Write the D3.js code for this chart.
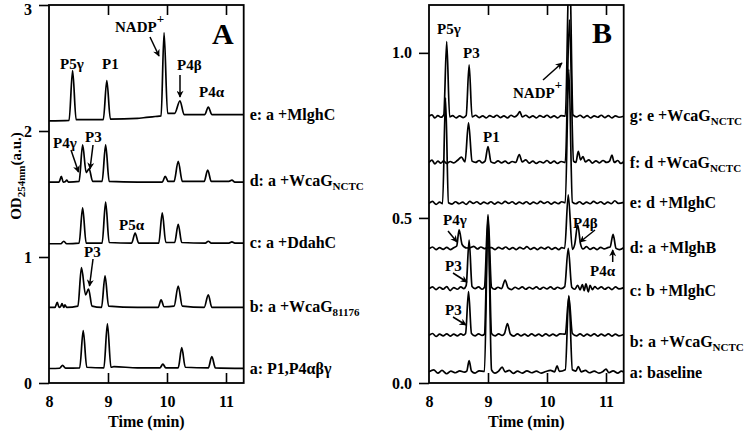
<!DOCTYPE html>
<html>
<head>
<meta charset="utf-8">
<script src="https://cdn.jsdelivr.net/npm/d3@7"></script>
<style>
  body { margin: 0; background: #fff; }
  text { font-family: "Liberation Serif", "Times New Roman", serif; font-weight: bold; fill: #000; }
</style>
</head>
<body>
<div id="chart"></div>
<script>
const width = 745;
const height = 433;

// x ticks (min) and y ticks for both panels
const ticksX = [8, 9, 10, 11];
const ticksYA = [0, 1, 2, 3];
const ticksYB = [0.0, 0.5, 1.0];

// Panel A traces: [time, OD]
const traceA_a = [[8.0,0.115],[8.18,0.117],[8.23,0.14],[8.28,0.118],[8.52,0.12],[8.58,0.415],[8.64,0.125],[8.93,0.12],[8.99,0.47],[9.05,0.125],[9.1,0.13],[9.5,0.12],[9.88,0.12],[9.93,0.15],[9.98,0.12],[10.19,0.12],[10.25,0.28],[10.31,0.125],[10.70,0.12],[10.76,0.21],[10.82,0.12],[11.3,0.116]];
const traceA_b = [[8.0,0.60],[8.1,0.60],[8.14,0.64],[8.17,0.60],[8.2,0.61],[8.22,0.63],[8.25,0.60],[8.27,0.62],[8.30,0.60],[8.49,0.61],[8.55,0.915],[8.62,0.70],[8.67,0.745],[8.73,0.61],[8.89,0.60],[8.95,0.85],[9.01,0.61],[9.5,0.60],[9.85,0.60],[9.90,0.66],[9.95,0.605],[10.12,0.61],[10.19,0.77],[10.26,0.61],[10.63,0.60],[10.70,0.70],[10.76,0.60],[11.3,0.60]];
const traceA_c = [[8.0,1.105],[8.20,1.105],[8.25,1.125],[8.30,1.105],[8.51,1.11],[8.57,1.39],[8.63,1.11],[8.90,1.11],[8.96,1.435],[9.02,1.115],[9.40,1.11],[9.46,1.19],[9.52,1.11],[9.86,1.11],[9.92,1.35],[9.98,1.115],[10.13,1.115],[10.19,1.26],[10.25,1.115],[10.65,1.11],[10.70,1.125],[10.75,1.11],[11.05,1.11],[11.1,1.12],[11.15,1.11],[11.3,1.11]];
const traceA_d = [[8.0,1.595],[8.17,1.595],[8.21,1.64],[8.24,1.595],[8.28,1.60],[8.30,1.61],[8.33,1.595],[8.51,1.60],[8.57,1.89],[8.63,1.67],[8.68,1.70],[8.74,1.60],[8.90,1.60],[8.96,1.89],[9.02,1.60],[9.5,1.595],[9.92,1.595],[9.97,1.64],[10.02,1.60],[10.12,1.60],[10.19,1.76],[10.26,1.60],[10.63,1.60],[10.69,1.69],[10.75,1.60],[11.05,1.60],[11.1,1.61],[11.15,1.595],[11.3,1.595]];
const traceA_e = [[8.0,2.08],[8.34,2.085],[8.40,2.48],[8.46,2.09],[8.92,2.09],[8.98,2.40],[9.04,2.095],[9.5,2.10],[9.6,2.105],[9.7,2.11],[9.8,2.115],[9.90,2.12],[9.95,2.78],[10.01,2.14],[10.13,2.14],[10.22,2.24],[10.29,2.13],[10.64,2.13],[10.70,2.19],[10.76,2.13],[11.3,2.13]];

// Panel B traces: [time, OD]
const traceB_a = [[8.0,0.034],[8.08,0.040],[8.15,0.030],[8.22,0.038],[8.3,0.028],[8.37,0.036],[8.45,0.031],[8.52,0.037],[8.6,0.033],[8.64,0.036],[8.68,0.068],[8.72,0.036],[8.78,0.030],[8.85,0.037],[8.94,0.035],[9.0,0.50],[9.06,0.04],[9.12,0.030],[9.18,0.036],[9.24,0.048],[9.29,0.034],[9.36,0.038],[9.43,0.029],[9.5,0.036],[9.58,0.030],[9.66,0.037],[9.74,0.031],[9.82,0.036],[9.9,0.030],[9.98,0.035],[10.06,0.038],[10.13,0.034],[10.17,0.052],[10.21,0.035],[10.31,0.04],[10.37,0.265],[10.43,0.04],[10.49,0.036],[10.53,0.05],[10.58,0.034],[10.65,0.038],[10.72,0.031],[10.8,0.036],[10.88,0.030],[10.95,0.035],[11.0,0.042],[11.05,0.031],[11.12,0.037],[11.2,0.030],[11.26,0.036],[11.3,0.033]];
const traceB_b = [[8.00,0.144],[8.06,0.150],[8.12,0.141],[8.18,0.148],[8.24,0.143],[8.30,0.149],[8.36,0.142],[8.42,0.148],[8.48,0.143],[8.54,0.149],[8.58,0.145],[8.62,0.150],[8.67,0.277],[8.72,0.150],[8.78,0.143],[8.84,0.149],[8.90,0.144],[8.94,0.148],[9.00,0.505],[9.06,0.15],[9.12,0.143],[9.18,0.149],[9.24,0.144],[9.28,0.150],[9.33,0.18],[9.38,0.148],[9.44,0.142],[9.50,0.149],[9.56,0.143],[9.62,0.148],[9.68,0.142],[9.74,0.149],[9.80,0.143],[9.86,0.148],[9.92,0.142],[9.98,0.149],[10.04,0.143],[10.10,0.148],[10.16,0.143],[10.22,0.149],[10.31,0.148],[10.37,0.262],[10.43,0.150],[10.50,0.143],[10.56,0.149],[10.62,0.142],[10.68,0.148],[10.74,0.143],[10.80,0.149],[10.86,0.142],[10.92,0.148],[10.98,0.143],[11.04,0.149],[11.10,0.142],[11.16,0.148],[11.22,0.143],[11.30,0.147]];
const traceB_c = [[8.00,0.285],[8.06,0.291],[8.12,0.283],[8.18,0.290],[8.24,0.284],[8.30,0.292],[8.36,0.280],[8.42,0.289],[8.48,0.284],[8.54,0.291],[8.59,0.286],[8.63,0.295],[8.68,0.433],[8.73,0.292],[8.78,0.286],[8.84,0.291],[8.90,0.284],[8.94,0.29],[9.00,0.51],[9.06,0.29],[9.11,0.284],[9.17,0.290],[9.23,0.286],[9.29,0.312],[9.34,0.288],[9.40,0.283],[9.46,0.290],[9.52,0.285],[9.58,0.291],[9.64,0.284],[9.70,0.290],[9.76,0.285],[9.82,0.291],[9.88,0.284],[9.94,0.290],[10.00,0.285],[10.06,0.291],[10.12,0.284],[10.18,0.290],[10.24,0.286],[10.30,0.292],[10.36,0.408],[10.42,0.290],[10.47,0.284],[10.52,0.296],[10.56,0.282],[10.60,0.298],[10.63,0.280],[10.66,0.300],[10.70,0.276],[10.73,0.296],[10.77,0.283],[10.81,0.292],[10.86,0.285],[10.92,0.291],[10.98,0.284],[11.04,0.290],[11.10,0.283],[11.16,0.291],[11.22,0.285],[11.30,0.289]];
const traceB_d = [[8.00,0.406],[8.06,0.412],[8.12,0.404],[8.18,0.410],[8.24,0.405],[8.30,0.411],[8.36,0.404],[8.42,0.410],[8.47,0.415],[8.51,0.464],[8.56,0.420],[8.60,0.412],[8.64,0.409],[8.70,0.410],[8.76,0.414],[8.82,0.406],[8.88,0.412],[8.94,0.407],[9.00,0.410],[9.06,0.410],[9.12,0.404],[9.18,0.411],[9.24,0.406],[9.30,0.412],[9.36,0.405],[9.42,0.410],[9.48,0.404],[9.54,0.411],[9.60,0.406],[9.66,0.413],[9.72,0.405],[9.78,0.410],[9.84,0.404],[9.90,0.411],[9.96,0.406],[10.02,0.412],[10.08,0.405],[10.14,0.410],[10.20,0.404],[10.25,0.410],[10.30,0.408],[10.36,0.57],[10.43,0.405],[10.47,0.42],[10.52,0.479],[10.57,0.42],[10.61,0.406],[10.67,0.413],[10.73,0.405],[10.79,0.410],[10.85,0.404],[10.91,0.411],[10.97,0.406],[11.03,0.410],[11.07,0.412],[11.12,0.45],[11.17,0.408],[11.23,0.404],[11.30,0.410]];
const traceB_e = [[8.00,0.544],[8.06,0.550],[8.12,0.541],[8.18,0.548],[8.23,0.543],[8.28,0.864],[8.33,0.546],[8.39,0.542],[8.45,0.549],[8.51,0.543],[8.57,0.548],[8.63,0.541],[8.69,0.550],[8.75,0.544],[8.81,0.549],[8.87,0.542],[8.93,0.548],[8.99,0.543],[9.05,0.549],[9.11,0.542],[9.17,0.548],[9.23,0.543],[9.29,0.550],[9.35,0.544],[9.41,0.549],[9.47,0.542],[9.53,0.548],[9.59,0.543],[9.65,0.549],[9.71,0.542],[9.77,0.548],[9.83,0.543],[9.89,0.550],[9.95,0.544],[10.01,0.549],[10.07,0.542],[10.13,0.548],[10.19,0.543],[10.25,0.549],[10.31,0.546],[10.37,0.95],[10.43,0.548],[10.49,0.543],[10.55,0.549],[10.61,0.542],[10.67,0.548],[10.73,0.543],[10.79,0.550],[10.85,0.544],[10.91,0.549],[10.97,0.542],[11.03,0.548],[11.09,0.543],[11.15,0.552],[11.21,0.544],[11.30,0.547]];
const traceB_f = [[8.00,0.668],[8.05,0.675],[8.10,0.664],[8.15,0.672],[8.20,0.666],[8.25,0.673],[8.30,0.665],[8.36,0.671],[8.42,0.667],[8.48,0.674],[8.55,0.684],[8.61,0.670],[8.67,0.788],[8.73,0.672],[8.79,0.668],[8.85,0.674],[8.90,0.667],[8.95,0.672],[9.00,0.716],[9.05,0.670],[9.11,0.666],[9.17,0.673],[9.23,0.667],[9.29,0.672],[9.35,0.665],[9.41,0.671],[9.47,0.668],[9.53,0.692],[9.58,0.670],[9.64,0.676],[9.70,0.666],[9.76,0.672],[9.82,0.665],[9.88,0.671],[9.94,0.667],[10.00,0.674],[10.06,0.666],[10.12,0.672],[10.18,0.665],[10.24,0.671],[10.31,0.668],[10.38,1.10],[10.45,0.672],[10.49,0.668],[10.53,0.702],[10.57,0.676],[10.61,0.686],[10.65,0.670],[10.71,0.676],[10.77,0.666],[10.83,0.673],[10.89,0.667],[10.95,0.674],[11.01,0.668],[11.06,0.672],[11.10,0.690],[11.14,0.668],[11.20,0.674],[11.25,0.665],[11.30,0.671]];
const traceB_g = [[8.00,0.808],[8.05,0.812],[8.10,0.803],[8.15,0.810],[8.20,0.805],[8.25,0.812],[8.30,1.034],[8.35,0.806],[8.40,0.810],[8.46,0.803],[8.52,0.809],[8.58,0.804],[8.63,0.810],[8.68,0.964],[8.73,0.806],[8.79,0.811],[8.85,0.804],[8.91,0.809],[8.97,0.803],[9.03,0.810],[9.09,0.805],[9.15,0.811],[9.21,0.804],[9.27,0.809],[9.33,0.803],[9.39,0.811],[9.45,0.806],[9.50,0.812],[9.54,0.822],[9.58,0.806],[9.64,0.811],[9.70,0.804],[9.76,0.809],[9.82,0.803],[9.88,0.810],[9.94,0.805],[10.00,0.811],[10.06,0.804],[10.12,0.809],[10.18,0.803],[10.24,0.810],[10.31,0.808],[10.38,1.30],[10.44,0.812],[10.50,0.806],[10.56,0.811],[10.62,0.804],[10.68,0.810],[10.74,0.803],[10.80,0.809],[10.86,0.805],[10.92,0.811],[10.98,0.804],[11.04,0.810],[11.10,0.803],[11.16,0.809],[11.22,0.805],[11.30,0.808]];

// trace names shown on the right: [main text, subscript, value at baseline]
const namesA = [
    ["e: a +MlghC", "", 2.13],
    ["d: a +WcaG", "NCTC", 1.60],
    ["c: a +DdahC", "", 1.11],
    ["b: a +WcaG", "81176", 0.60],
    ["a: P1,P4\u03b1\u03b2\u03b3", "", 0.115]
];
const namesB = [
    ["g: e +WcaG", "NCTC", 0.81],
    ["f: d +WcaG", "NCTC", 0.665],
    ["e: d +MlghC", "", 0.545],
    ["d: a +MlghB", "", 0.41],
    ["c: b +MlghC", "", 0.28],
    ["b: a +WcaG", "NCTC", 0.125],
    ["a: baseline", "", 0.03]
];

const svg = d3.select("#chart").append("svg")
    .attr("width", width)
    .attr("height", height);

const defs = svg.append("defs");
defs.append("marker")
    .attr("id", "head")
    .attr("viewBox", "0 0 10 10")
    .attr("refX", 9)
    .attr("refY", 5)
    .attr("markerWidth", 8)
    .attr("markerHeight", 7)
    .attr("markerUnits", "userSpaceOnUse")
    .attr("orient", "auto")
    .append("path")
    .attr("d", "M0,0 L10,5 L0,10 L3,5 z")
    .attr("fill", "#000");

const plotTop = 5, plotBottom = 383;

function drawPanel(id, left, right, yMax, ticksY, fmt, traces, names) {
    const x = d3.scaleLinear().domain([8, 11.3]).range([left, right]);
    const y = d3.scaleLinear().domain([0, yMax]).range([plotBottom, plotTop]);
    const g = svg.append("g").attr("class", "panel-" + id);

    defs.append("clipPath").attr("id", "clip" + id)
        .append("rect")
        .attr("x", left).attr("y", plotTop)
        .attr("width", right - left).attr("height", plotBottom - plotTop);

    const line = d3.line()
        .x(d => x(d[0]))
        .y(d => y(d[1]))
        .curve(d3.curveMonotoneX);

    g.append("g")
        .attr("clip-path", "url(#clip" + id + ")")
        .selectAll("path")
        .data(traces)
        .enter().append("path")
        .attr("d", line)
        .attr("fill", "none")
        .attr("stroke", "#000")
        .attr("stroke-width", 1.7)
        .attr("stroke-linejoin", "round");

    const xb = g.append("g")
        .attr("transform", `translate(0,${plotBottom})`)
        .call(d3.axisBottom(x).tickValues(ticksX).tickSizeInner(-10).tickSizeOuter(0).tickPadding(13).tickFormat(d3.format("d")));
    const xt = g.append("g")
        .attr("transform", `translate(0,${plotTop})`)
        .call(d3.axisTop(x).tickValues(ticksX.slice(1)).tickSizeInner(-10).tickSizeOuter(0).tickFormat(""));
    const yl = g.append("g")
        .attr("transform", `translate(${left},0)`)
        .call(d3.axisLeft(y).tickValues(ticksY).tickSize(10).tickPadding(7).tickFormat(fmt));

    [xb, xt, yl].forEach(a => {
        a.select(".domain").remove();
        a.selectAll("line").attr("stroke", "#000").attr("stroke-width", 1.6);
        a.selectAll("text").attr("font-size", 16).attr("font-family", null);
    });
    xb.selectAll(".tick").filter(d => d === 8).select("line").remove();
    // keep the topmost tick label inside the picture
    yl.selectAll(".tick").filter(d => y(d) < 10).select("text").attr("dy", "0.6em");

    g.append("rect")
        .attr("x", left).attr("y", plotTop)
        .attr("width", right - left).attr("height", plotBottom - plotTop)
        .attr("fill", "none")
        .attr("stroke", "#000")
        .attr("stroke-width", 1.8);

    g.append("text")
        .attr("x", (left + right) / 2)
        .attr("y", 427)
        .attr("text-anchor", "middle")
        .attr("font-size", 16)
        .text("Time (min)");

    const lab = g.selectAll(".name")
        .data(names)
        .enter().append("text")
        .attr("class", "name")
        .attr("x", right + 6)
        .attr("y", d => y(d[2]) + 5)
        .attr("font-size", 16);
    lab.append("tspan").text(d => d[0]);
    lab.append("tspan")
        .attr("font-size", 11)
        .attr("dy", 4)
        .text(d => d[1]);

    return { x, y, g };
}

const pA = drawPanel("A", 49, 243.7, 3, ticksYA, d3.format("d"),
    [traceA_a, traceA_b, traceA_c, traceA_d, traceA_e], namesA);
const pB = drawPanel("B", 429, 623.7, 1.145, ticksYB, d3.format(".1f"),
    [traceB_a, traceB_b, traceB_c, traceB_d, traceB_e, traceB_f, traceB_g], namesB);

// y axis title of panel A
const yt = svg.append("text")
    .attr("transform", "translate(20.5,176) rotate(-90)")
    .attr("text-anchor", "middle")
    .attr("font-size", 15);
yt.append("tspan").text("OD");
yt.append("tspan").attr("font-size", 11).attr("dy", 4).text("254nm");
yt.append("tspan").attr("dy", -4).text("(a.u.)");

// panel letters
svg.append("text").attr("x", 212).attr("y", 44).attr("font-size", 30).text("A");
svg.append("text").attr("x", 592).attr("y", 43).attr("font-size", 30).text("B");

// peak labels with optional superscript
function label(x, y, t, sup) {
    const el = svg.append("text").attr("x", x).attr("y", y).attr("font-size", 15);
    el.append("tspan").text(t);
    if (sup) el.append("tspan").attr("font-size", 13).attr("dy", -9).text(sup);
}
function arrow(x1, y1, x2, y2) {
    svg.append("line")
        .attr("x1", x1).attr("y1", y1).attr("x2", x2).attr("y2", y2)
        .attr("stroke", "#000")
        .attr("stroke-width", 1.5)
        .attr("marker-end", "url(#head)");
}

// panel A annotations
label(60, 69, "P5\u03b3");
label(102, 69, "P1");
label(115, 32, "NADP", "+");
arrow(150, 37, 159, 56);
label(177, 70, "P4\u03b2");
arrow(180, 75, 180, 97);
label(199, 97, "P4\u03b1");
label(53, 148, "P4\u03b3");
arrow(71, 150, 78.5, 172);
label(85, 142, "P3");
arrow(93, 145, 90, 169);
label(119, 230, "P5\u03b1");
label(84, 257, "P3");
arrow(93, 259, 89.5, 286);

// panel B annotations
label(437, 34, "P5\u03b3");
label(463, 58, "P3");
label(483, 142, "P1");
label(513, 98, "NADP", "+");
arrow(543, 80, 562, 63);
label(443, 225, "P4\u03b3");
arrow(448, 231, 457, 242);
label(445, 271, "P3");
arrow(453, 273, 467, 282);
label(445, 315, "P3");
arrow(453, 317, 466, 325);
label(573, 228, "P4\u03b2");
arrow(595, 230, 580, 242);
label(590, 276, "P4\u03b1");
arrow(612.7, 262, 612.7, 250);
</script>
</body>
</html>
